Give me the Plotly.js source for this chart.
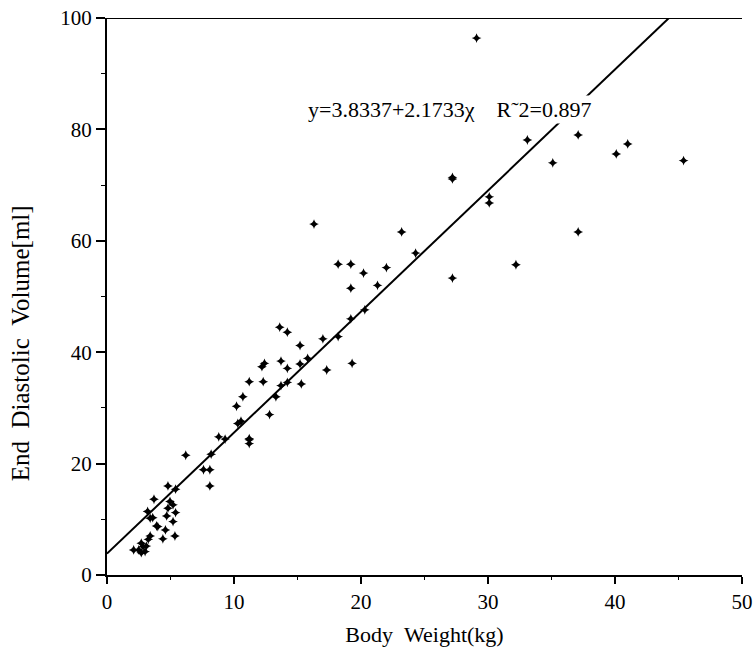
<!DOCTYPE html>
<html><head><meta charset="utf-8">
<script src="https://cdn.plot.ly/plotly-3.0.1.min.js"></script>
<style>body{margin:0;background:#fff}#c{width:755px;height:651px}</style>
</head><body><div id="c"></div>
<script>
const bodyWeight = [29.1,33.1,37.1,35.1,40.1,41.0,45.4,27.2,27.2,30.1,30.1,37.1,32.2,27.2,23.2,24.3,
 16.3,18.2,19.2,20.2,22.0,19.2,21.3,20.3,19.2,18.2,17.0,13.6,14.2,15.2,13.7,12.2,12.4,14.2,15.2,15.8,17.3,19.3,
 11.2,12.3,13.7,14.2,15.3,10.7,10.2,13.3,12.8,10.3,10.55,8.8,11.2,11.2,11.2,9.3,8.2,6.2,7.6,8.1,8.1,
 4.8,5.4,3.7,4.96,5.2,3.2,4.8,5.4,4.7,3.4,3.6,3.9,4.0,5.2,4.6,5.35,4.4,3.4,3.25,
 2.1,2.5,2.7,2.85,3.0,2.7,3.1];
const edv = [96.4,78.1,79.0,74.0,75.6,77.4,74.4,71.1,71.4,67.9,66.8,61.6,55.7,53.3,61.6,57.8,
 63.0,55.8,55.8,54.2,55.2,51.5,52.0,47.6,46.0,42.8,42.4,44.5,43.6,41.2,38.4,37.4,38.0,37.1,37.9,38.9,36.8,38.0,
 34.7,34.7,34.0,34.6,34.3,32.0,30.3,32.0,28.8,27.2,27.6,24.8,24.5,24.3,23.6,24.4,21.7,21.5,18.9,18.9,16.0,
 16.0,15.4,13.6,13.2,12.6,11.4,12.0,11.2,10.6,10.2,10.3,8.8,8.7,9.6,8.1,7.0,6.5,7.0,6.4,
 4.5,4.5,5.7,5.1,4.2,4.0,5.2];
const intercept = 3.8337, slope = 2.1733;
const fitX = [0, (100 - intercept) / slope];
const fitY = fitX.map(x => intercept + slope * x);
const xTicks = [0,10,20,30,40,50];
const yTicks = [0,20,40,60,80,100];
const equationText = "y=3.8337+2.1733χ\u00A0\u00A0\u00A0\u00A0R˜2=0.897";
const xTitle = "Body\u00A0\u00A0Weight(kg)";
const yTitle = "End\u00A0\u00A0Diastolic\u00A0\u00A0Volume[ml]";

const serif = "Liberation Serif, Times New Roman, serif";
const traces = [
 {x: fitX, y: fitY, mode: 'lines', line: {color: '#000', width: 2}, hoverinfo: 'skip'},
 {x: bodyWeight, y: edv, mode: 'markers', marker: {symbol: 'star-diamond', size: 7, color: '#000'}}
];
const layout = {
 width: 755, height: 651, showlegend: false,
 paper_bgcolor: '#fff', plot_bgcolor: '#fff',
 margin: {l: 107, r: 13, t: 18, b: 76},
 font: {family: serif, size: 21, color: '#000'},
 xaxis: {range: [0, 50], tickvals: xTicks, ticktext: xTicks.map(String), showgrid: false, zeroline: false,
   showline: true, linecolor: '#000', linewidth: 2, ticks: 'outside', ticklen: 7, tickwidth: 2, tickcolor: '#000',
   minor: {dtick: 5, ticks: 'outside', ticklen: 3, tickwidth: 1, tickcolor: '#000', showgrid: false},
   title: {text: xTitle, font: {family: serif, size: 22}, standoff: 13}},
 yaxis: {range: [0, 100], tickvals: yTicks, ticktext: yTicks.map(String), showgrid: false, zeroline: false,
   showline: true, linecolor: '#000', linewidth: 2, ticks: 'outside', ticklen: 9, tickwidth: 2, tickcolor: '#000',
   minor: {dtick: 10, ticks: 'outside', ticklen: 4, tickwidth: 1, tickcolor: '#000', showgrid: false}},
 shapes: [{type: 'line', xref: 'paper', yref: 'y', x0: 0, x1: 1, y0: 100, y1: 100, line: {color: '#000', width: 2}}],
 annotations: [
  {x: 15.7, y: 83.6, xref: 'x', yref: 'y', xanchor: 'left', yanchor: 'middle', showarrow: false,
   text: equationText, bgcolor: '#fff', font: {family: serif, size: 22, color: '#000'}},
  {x: -0.137, y: 41.6, xref: 'paper', yref: 'y', xanchor: 'center', yanchor: 'middle', showarrow: false,
   textangle: -90, text: yTitle, font: {family: serif, size: 25, color: '#000'}}
 ]
};
Plotly.newPlot('c', traces, layout, {displayModeBar: false, staticPlot: true});
</script></body></html>
